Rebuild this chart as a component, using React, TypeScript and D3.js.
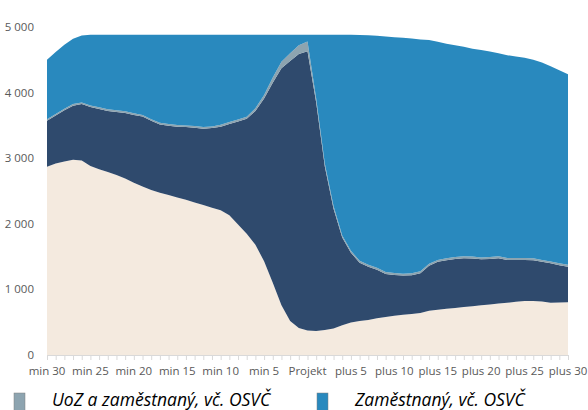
import * as d3 from "d3";
import React from "react";

const categories: string[] = [
  ...d3.range(30, 0, -1).map(n => `min ${n}`),
  "Projekt",
  ...d3.range(1, 31).map(n => `plus ${n}`),
];

// layer values, bottom to top
const evidovany = [
  2870, 2920, 2950, 2975, 2965, 2880, 2830, 2790, 2745, 2690, 2625, 2570, 2515, 2475, 2440, 2400,
  2365, 2325, 2285, 2245, 2205, 2130, 1990, 1850, 1680, 1430, 1100, 760, 520, 410, 375, 365, 380,
  405, 455, 495, 520, 535, 560, 580, 600, 615, 625, 640, 675, 690, 705, 715, 730, 745, 760, 770,
  785, 795, 810, 825, 825, 815, 795, 800, 805,
];
const mimoEvidence = [
  700, 730, 780, 825, 860, 900, 920, 930, 960, 1000, 1035, 1065, 1055, 1040, 1055, 1080, 1110,
  1140, 1165, 1215, 1275, 1390, 1570, 1750, 2040, 2480, 3050, 3610, 3960, 4180, 4255, 3485, 2490,
  1825, 1335, 1065, 885, 810, 740, 655, 620, 595, 590, 605, 685, 730, 740, 750, 745, 725, 698,
  695, 689, 655, 638, 625, 620, 605, 602, 570, 541,
];
const uozZamestnany = [
  25, 25, 25, 25, 25, 25, 25, 25, 25, 25, 25, 25, 25, 25, 25, 25, 25, 25, 25, 25, 30, 30, 30, 30,
  40, 55, 80, 100, 120, 130, 150, 60, 45, 40, 30, 30, 30, 30, 30, 30, 30, 30, 30, 30, 30, 30, 30,
  30, 30, 30, 30, 30, 30, 30, 30, 30, 30, 30, 30, 30, 30,
];
const zamestnany = [
  905, 945, 975, 995, 1020, 1075, 1105, 1135, 1150, 1165, 1195, 1220, 1285, 1340, 1360, 1375,
  1380, 1390, 1405, 1395, 1370, 1330, 1290, 1250, 1120, 915, 650, 410, 280, 160, 100, 970, 1965,
  2610, 3060, 3290, 3443, 3500, 3535, 3590, 3595, 3597, 3580, 3535, 3410, 3325, 3270, 3225, 3195,
  3170, 3162, 3130, 3096, 3090, 3072, 3050, 3025, 3010, 2973, 2940, 2904,
];

const yTicks = [0, 1000, 2000, 3000, 4000, 5000];

const layers = [
  { key: "evid", values: evidovany, color: "#f4eadf" },
  { key: "mimo", values: mimoEvidence, color: "#2f4a6d" },
  { key: "uoz", values: uozZamestnany, color: "#8da4b0" },
  { key: "zam", values: zamestnany, color: "#2989be" },
];

const legend = [
  { label: "UoZ a zaměstnaný, vč. OSVČ", color: "#8da4b0", x: 14 },
  { label: "Zaměstnaný, vč. OSVČ", color: "#2989be", x: 317 },
];

export default function App() {
  const width = 588;
  const height = 410;

  const x = d3.scalePoint<string>().domain(categories).range([47, 568]);
  const y = d3.scaleLinear().domain([0, 5000]).range([355, 27]);

  const rows = categories.map((c, i) => {
    const r: any = { cat: c };
    layers.forEach(l => (r[l.key] = l.values[i]));
    return r;
  });
  const stacked = d3.stack().keys(layers.map(l => l.key))(rows);

  const area = d3
    .area<any>()
    .x(d => x(d.data.cat) as number)
    .y0(d => y(d[0]))
    .y1(d => y(d[1]));

  const font = "'Open Sans', sans-serif";
  const fmt = (v: number) => d3.format(",")(v).replace(/,/g, " ");

  return (
    <svg
      width={width}
      height={height}
      style={{ position: "absolute", left: 0, top: 0, background: "#fff" }}
    >
      {stacked.map((s, i) => (
        <path key={s.key} d={area(s as any) || ""} fill={layers[i].color} />
      ))}

      {/* y labels */}
      {yTicks.map(t => (
        <text
          key={t}
          x={34}
          y={y(t)}
          dy="0.35em"
          textAnchor="end"
          fontFamily={font}
          fontSize={11.5}
          fill="#595959"
        >
          {fmt(t)}
        </text>
      ))}

      {/* x axis */}
      <line x1={x(categories[0])} x2={x(categories[60])} y1={355.5} y2={355.5} stroke="#d9d9d9" />
      {categories.map(c => (
        <line
          key={c}
          x1={(x(c) as number) + 0.5}
          x2={(x(c) as number) + 0.5}
          y1={355}
          y2={360}
          stroke="#d9d9d9"
        />
      ))}
      {categories
        .filter((_, i) => i % 5 === 0)
        .map(c => (
          <text
            key={c}
            x={x(c)}
            y={375}
            textAnchor="middle"
            fontFamily={font}
            fontSize={11.5}
            fill="#595959"
          >
            {c}
          </text>
        ))}

      {/* legend */}
      {legend.map(l => (
        <g key={l.label}>
          <rect x={l.x} y={393} width={11} height={20} fill={l.color} stroke="#7f7f7f" strokeWidth={0.5} />
          <text
            x={l.x + 38}
            y={406}
            fontFamily={font}
            fontStyle="italic"
            fontSize={17.5}
            fill="#000"
          >
            {l.label}
          </text>
        </g>
      ))}
    </svg>
  );
}
